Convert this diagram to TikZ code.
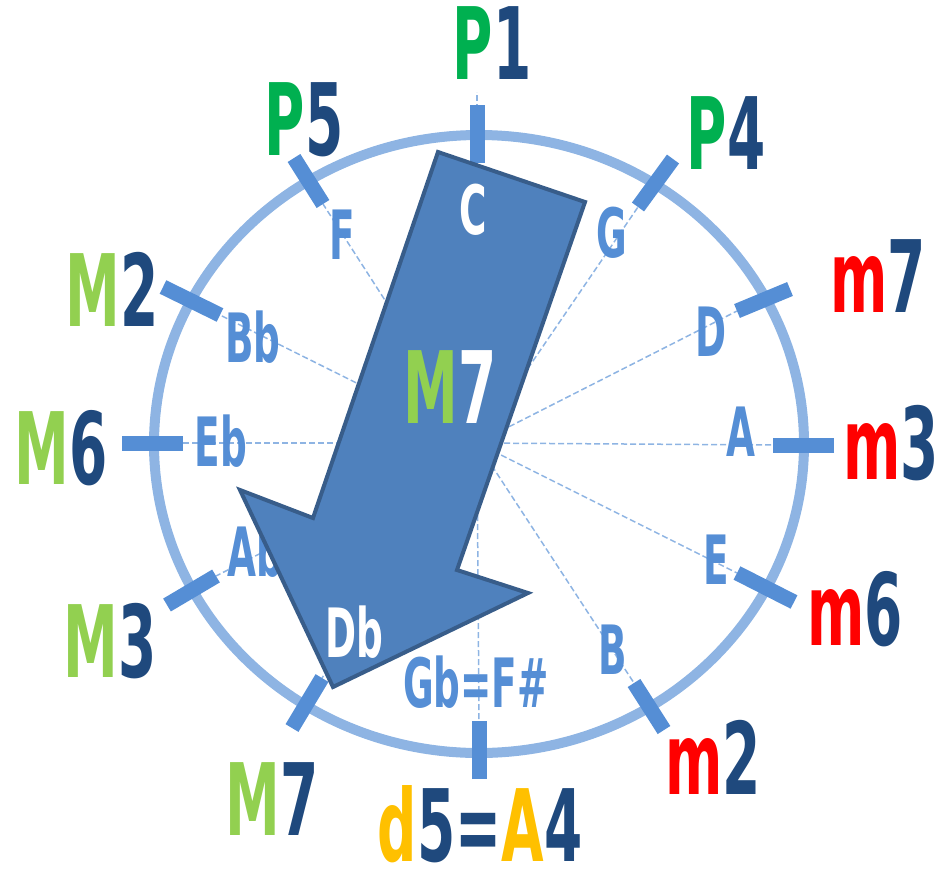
\documentclass[tikz,border=0pt]{standalone}
\usepackage{fontspec}
\setmainfont[FakeStretch=0.55]{DejaVu Sans}

\definecolor{ringblue}{HTML}{8EB4E3}
\definecolor{spokeblue}{HTML}{8EB4E3}
\definecolor{tickblue}{HTML}{558ED5}
\definecolor{arrowfill}{HTML}{4F81BD}
\definecolor{arrowline}{HTML}{385D8A}
\definecolor{pgreen}{HTML}{00B050}
\definecolor{lgreen}{HTML}{92D050}
\definecolor{mred}{HTML}{FF0000}
\definecolor{dblue}{HTML}{1F497D}
\definecolor{ayellow}{HTML}{FFC000}

\newcommand{\ivl}[4]{\textcolor{#1}{#2}\textcolor{#3}{#4}}

\tikzset{
  ring/.style={draw=ringblue, line width=10pt},
  spoke/.style={draw=spokeblue, line width=1.5pt, dash pattern=on 6pt off 3pt},
  tickmark/.style={draw=tickblue, line width=15pt},
  bigarrow/.style={fill=arrowfill, draw=arrowline, line width=4pt, line join=miter},
  interval/.style={inner sep=0pt, font=\fontsize{100}{100}\selectfont\bfseries},
  note/.style={inner sep=0pt, text=tickblue, font=\fontsize{68}{68}\selectfont\bfseries},
}

\begin{document}
\begin{tikzpicture}[x=1pt, y=-1pt]
        \useasboundingbox (0,0) rectangle (942,873);
        \coordinate (O) at (477,443);

        \draw[ring] (479,444) ellipse [x radius=325, y radius=309];

        % ticks: outer end, inner end
        \coordinate (C-out) at (477,105);   \coordinate (C-in) at (477,163);
        \coordinate (G-out) at (673,159);   \coordinate (G-in) at (638,207);
        \coordinate (D-out) at (790,289);   \coordinate (D-in) at (737,311);
        \coordinate (A-out) at (834,445);   \coordinate (A-in) at (773,445);
        \coordinate (E-out) at (794,602);   \coordinate (E-in) at (737,573);
        \coordinate (B-out) at (664,730);   \coordinate (B-in) at (634,683);
        \coordinate (Gb-out) at (479,779);  \coordinate (Gb-in) at (479,721);
        \coordinate (Db-out) at (292,728);  \coordinate (Db-in) at (322,678);
        \coordinate (Ab-out) at (167,605);  \coordinate (Ab-in) at (216,576);
        \coordinate (Eb-out) at (122,443);  \coordinate (Eb-in) at (183,443);
        \coordinate (Bb-out) at (163,287);  \coordinate (Bb-in) at (220,315);
        \coordinate (F-out) at (294,158);   \coordinate (F-in) at (323,204);
        \coordinate (C-top) at (477,92);

        \draw[spoke] (O) -- (C-top);
        \draw[spoke] (O) -- (G-in);
        \draw[spoke] (O) -- (D-in);
        \draw[spoke] (O) -- (A-in);
        \draw[spoke] (O) -- (E-in);
        \draw[spoke] (O) -- (B-in);
        \draw[spoke] (O) -- (Gb-in);
        \draw[spoke] (O) -- (Db-in);
        \draw[spoke] (O) -- (Ab-in);
        \draw[spoke] (O) -- (Eb-in);
        \draw[spoke] (O) -- (Bb-in);
        \draw[spoke] (O) -- (F-in);

        \draw[tickmark] (C-out) -- (C-in);
        \draw[tickmark] (G-out) -- (G-in);
        \draw[tickmark] (D-out) -- (D-in);
        \draw[tickmark] (A-out) -- (A-in);
        \draw[tickmark] (E-out) -- (E-in);
        \draw[tickmark] (B-out) -- (B-in);
        \draw[tickmark] (Gb-out) -- (Gb-in);
        \draw[tickmark] (Db-out) -- (Db-in);
        \draw[tickmark] (Ab-out) -- (Ab-in);
        \draw[tickmark] (Eb-out) -- (Eb-in);
        \draw[tickmark] (Bb-out) -- (Bb-in);
        \draw[tickmark] (F-out) -- (F-in);

        \node[note] (nG) at (612,233) {G};
        \node[note] (nD) at (711,332) {D};
        \node[note] (nA) at (741,432) {A};
        \node[note] (nE) at (716,560) {E};
        \node[note] (nB) at (613,650) {B};
        \node[note] (nGb) at (476,682) {Gb=F\#};
        \node[note] (nAb) at (255,551) {Ab};
        \node[note] (nEb) at (221,441) {Eb};
        \node[note] (nBb) at (253,337) {Bb};
        \node[note] (nF) at (342,235) {F};

        \draw[bigarrow] (438,152) -- (585,202) -- (457,570) -- (528,593)
              -- (333,687) -- (240,490) -- (313,518) -- cycle;

        \node[note, text=white] (nC) at (473,210) {C};
        \node[note, text=white] (nDb) at (354,632) {Db};
        \node[interval] (jump) at (450,387) {\ivl{lgreen}{M}{white}{7}};

        \node[interval] (p1) at (492,43) {\ivl{pgreen}{P}{dblue}{1}};
        \node[interval] (p4) at (726,133) {\ivl{pgreen}{P}{dblue}{4}};
        \node[interval] (min7) at (878,276) {\ivl{mred}{m}{dblue}{7}};
        \node[interval] (min3) at (891,443) {\ivl{mred}{m}{dblue}{3}};
        \node[interval] (min6) at (855,609) {\ivl{mred}{m}{dblue}{6}};
        \node[interval] (min2) at (713,757) {\ivl{mred}{m}{dblue}{2}};
        \node[interval] (d5) at (480,824) {\ivl{ayellow}{d}{dblue}{5=}\ivl{ayellow}{A}{dblue}{4}};
        \node[interval] (maj7) at (272,799) {\ivl{lgreen}{M}{dblue}{7}};
        \node[interval] (maj3) at (110,641) {\ivl{lgreen}{M}{dblue}{3}};
        \node[interval] (maj6) at (61,448) {\ivl{lgreen}{M}{dblue}{6}};
        \node[interval] (maj2) at (112,289) {\ivl{lgreen}{M}{dblue}{2}};
        \node[interval] (p5) at (304,120) {\ivl{pgreen}{P}{dblue}{5}};
\end{tikzpicture}
\end{document}
